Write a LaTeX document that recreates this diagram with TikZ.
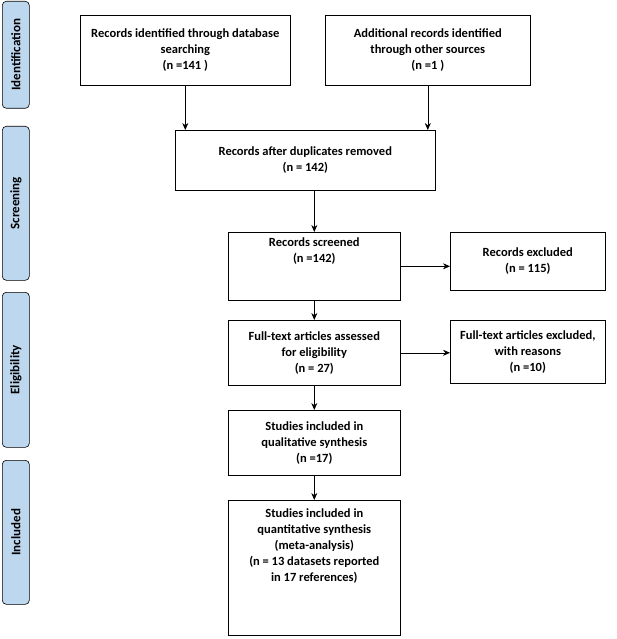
\documentclass[tikz,border=0pt]{standalone}
\usepackage{fontspec}
\usetikzlibrary{arrows.meta}
\setmainfont{Carlito}
\definecolor{sideblue}{HTML}{BDD7EE}
\begin{document}
\begin{tikzpicture}[x=1pt,y=-1pt,
 box/.style={draw,semithick,fill=white,font=\bfseries\fontsize{12.5}{16}\selectfont,align=center,anchor=north west,inner sep=2pt},
 side/.style={draw,semithick,fill=sideblue,rounded corners=4pt,anchor=north west,minimum width=27pt},
 arr/.style={-{Stealth[length=7pt,width=6pt]},semithick}]
\useasboundingbox (0,0) rectangle (616,639);
\newcommand{\bx}[6]{\node[box,minimum width=#4pt,minimum height=#5pt] (#1) at (#2,#3) {#6};}
\bx{a}{80}{15}{210}{70}{Records identified through database\\searching\\(n =141 )}
\bx{b}{325}{15}{205}{70}{Additional records identified\\through other sources\\(n =1 )}
\bx{c}{175}{130}{260}{60}{Records after duplicates removed\\(n = 142)}
\bx{d}{228}{232}{172}{68}{Records screened\\(n =142)\\[16pt]}
\bx{e}{450}{232}{155}{58}{Records excluded\\(n =  115)}
\bx{f}{228}{320}{172}{65}{Full-text articles assessed\\for eligibility\\(n = 27)}
\bx{g}{450}{320}{155}{63}{Full-text articles excluded,\\with reasons\\(n =10)}
\bx{h}{228}{410}{172}{65}{Studies included in\\qualitative synthesis\\(n =17)}
\bx{i}{228}{500}{172}{135}{Studies included in\\quantitative synthesis\\(meta-analysis)\\(n =  13 datasets reported\\in 17 references)\\[30pt]}
\foreach \n/\y/\h in {s1/1/107,s2/126/154,s3/292/155,s4/460/144}
 \node[side,minimum height=\h pt] (\n) at (2,\y) {};
\foreach \n/\t in {s1/Identification,s2/Screening,s3/Eligibility,s4/Included}
 \node[rotate=90,font=\bfseries\fontsize{13}{15}\selectfont] at (\n.center) {\t};
\draw[arr] (a.south) -- (a.south |- c.north);
\draw[arr] (b.south) -- (b.south |- c.north);
\draw[arr] (c.south -| d.north) -- (d.north);
\draw[arr] (d.east) -- (d.east -| e.west);
\draw[arr] (d) -- (f);
\draw[arr] (f.east) -- (f.east -| g.west);
\draw[arr] (f) -- (h);
\draw[arr] (h) -- (i);
\end{tikzpicture}
\end{document}
